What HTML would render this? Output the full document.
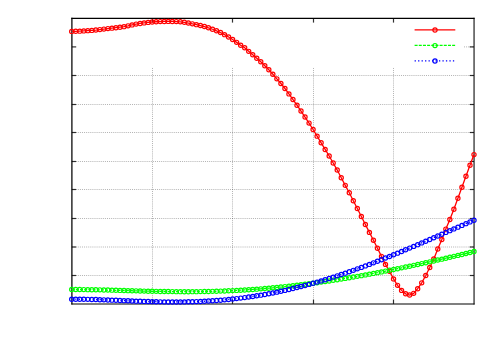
<!DOCTYPE html>
<html><head><meta charset="utf-8"><title>plot</title>
<style>html,body{margin:0;padding:0;background:#fff;font-family:"Liberation Sans",sans-serif;}svg{display:block}</style>
</head><body>
<svg width="500" height="350" viewBox="0 0 500 350">
<rect width="500" height="350" fill="#fff"/>
<line x1="152.50" y1="67.96" x2="152.50" y2="303.9" stroke="#000" stroke-opacity="0.3" stroke-width="1" stroke-dasharray="1 1.085"/>
<line x1="232.50" y1="67.96" x2="232.50" y2="303.9" stroke="#000" stroke-opacity="0.3" stroke-width="1" stroke-dasharray="1 1.085"/>
<line x1="313.50" y1="67.96" x2="313.50" y2="303.9" stroke="#000" stroke-opacity="0.3" stroke-width="1" stroke-dasharray="1 1.085"/>
<line x1="393.50" y1="67.96" x2="393.50" y2="303.9" stroke="#000" stroke-opacity="0.3" stroke-width="1" stroke-dasharray="1 1.085"/>
<line x1="464" y1="46.90" x2="474.0" y2="46.90" stroke="#000" stroke-opacity="0.3" stroke-width="1" stroke-dasharray="1 1.085"/>
<line x1="71.555" y1="75.50" x2="474.0" y2="75.50" stroke="#000" stroke-opacity="0.3" stroke-width="1" stroke-dasharray="1 1.085"/>
<line x1="71.555" y1="104.50" x2="474.0" y2="104.50" stroke="#000" stroke-opacity="0.3" stroke-width="1" stroke-dasharray="1 1.085"/>
<line x1="71.555" y1="132.50" x2="474.0" y2="132.50" stroke="#000" stroke-opacity="0.3" stroke-width="1" stroke-dasharray="1 1.085"/>
<line x1="71.555" y1="161.50" x2="474.0" y2="161.50" stroke="#000" stroke-opacity="0.3" stroke-width="1" stroke-dasharray="1 1.085"/>
<line x1="71.555" y1="189.50" x2="474.0" y2="189.50" stroke="#000" stroke-opacity="0.3" stroke-width="1" stroke-dasharray="1 1.085"/>
<line x1="71.555" y1="218.50" x2="474.0" y2="218.50" stroke="#000" stroke-opacity="0.3" stroke-width="1" stroke-dasharray="1 1.085"/>
<line x1="71.555" y1="247.00" x2="474.0" y2="247.00" stroke="#000" stroke-opacity="0.3" stroke-width="1" stroke-dasharray="1 1.085"/>
<line x1="71.555" y1="275.50" x2="474.0" y2="275.50" stroke="#000" stroke-opacity="0.3" stroke-width="1" stroke-dasharray="1 1.085"/>

<g stroke="#000" stroke-opacity="0.8" stroke-width="1.2"><line x1="152.50" y1="18.3" x2="152.50" y2="22.6"/><line x1="152.50" y1="303.9" x2="152.50" y2="299.59999999999997"/>
<line x1="232.50" y1="18.3" x2="232.50" y2="22.6"/><line x1="232.50" y1="303.9" x2="232.50" y2="299.59999999999997"/>
<line x1="313.50" y1="18.3" x2="313.50" y2="22.6"/><line x1="313.50" y1="303.9" x2="313.50" y2="299.59999999999997"/>
<line x1="393.50" y1="18.3" x2="393.50" y2="22.6"/><line x1="393.50" y1="303.9" x2="393.50" y2="299.59999999999997"/>
<line x1="71.9" y1="46.90" x2="76.2" y2="46.90"/><line x1="474.0" y1="46.90" x2="469.7" y2="46.90"/>
<line x1="71.9" y1="75.50" x2="76.2" y2="75.50"/><line x1="474.0" y1="75.50" x2="469.7" y2="75.50"/>
<line x1="71.9" y1="104.50" x2="76.2" y2="104.50"/><line x1="474.0" y1="104.50" x2="469.7" y2="104.50"/>
<line x1="71.9" y1="132.50" x2="76.2" y2="132.50"/><line x1="474.0" y1="132.50" x2="469.7" y2="132.50"/>
<line x1="71.9" y1="161.50" x2="76.2" y2="161.50"/><line x1="474.0" y1="161.50" x2="469.7" y2="161.50"/>
<line x1="71.9" y1="189.50" x2="76.2" y2="189.50"/><line x1="474.0" y1="189.50" x2="469.7" y2="189.50"/>
<line x1="71.9" y1="218.50" x2="76.2" y2="218.50"/><line x1="474.0" y1="218.50" x2="469.7" y2="218.50"/>
<line x1="71.9" y1="247.00" x2="76.2" y2="247.00"/><line x1="474.0" y1="247.00" x2="469.7" y2="247.00"/>
<line x1="71.9" y1="275.50" x2="76.2" y2="275.50"/><line x1="474.0" y1="275.50" x2="469.7" y2="275.50"/>
</g>
<g stroke="#000" stroke-linecap="square">
<line x1="71.9" y1="18.3" x2="474.0" y2="18.3" stroke-width="1.2"/>
<line x1="71.9" y1="18.3" x2="71.9" y2="303.9" stroke-width="1.25"/>
<line x1="71.9" y1="304.0" x2="474.0" y2="304.0" stroke-width="1.1"/>
<line x1="474.05" y1="18.3" x2="474.05" y2="304.0" stroke-width="1.05"/>
</g>
<line x1="414.6" y1="29.9" x2="455.3" y2="29.9" stroke="#ff0000" stroke-width="1.3" /><circle cx="435.0" cy="30.049999999999997" r="2.1" fill="none" stroke="#ff0000" stroke-width="1.2"/>
<line x1="414.6" y1="45.45" x2="455.3" y2="45.45" stroke="#00ff00" stroke-width="1.3" stroke-dasharray="3 1.17"/><circle cx="435.0" cy="45.6" r="2.1" fill="none" stroke="#00ff00" stroke-width="1.2"/>
<line x1="414.6" y1="60.85" x2="455.3" y2="60.85" stroke="#0000ff" stroke-width="1.3" stroke-dasharray="1.3 2.18"/><circle cx="435.0" cy="61.0" r="2.1" fill="none" stroke="#0000ff" stroke-width="1.2"/>

<polyline points="71.70,31.40 75.72,31.30 79.75,31.14 83.77,30.92 87.79,30.67 91.81,30.40 95.84,30.05 99.86,29.59 103.88,29.10 107.91,28.61 111.93,28.16 115.95,27.70 119.98,27.20 124.00,26.63 128.02,25.83 132.05,24.90 136.07,24.12 140.09,23.48 144.11,22.89 148.14,22.39 152.16,22.02 156.18,21.77 160.21,21.59 164.23,21.46 168.25,21.40 172.28,21.46 176.30,21.61 180.32,21.82 184.34,22.31 188.37,23.07 192.39,23.87 196.41,24.66 200.44,25.52 204.46,26.52 208.48,27.79 212.50,29.24 216.53,30.80 220.55,32.56 224.57,34.64 228.60,36.96 232.62,39.55 236.64,42.37 240.67,45.24 244.69,47.77 248.71,51.34 252.74,54.78 256.76,58.19 260.78,61.79 264.80,65.80 268.83,69.82 272.85,74.23 276.87,78.85 280.90,83.48 284.92,88.49 288.94,93.92 292.96,99.55 296.99,105.18 301.01,111.02 305.03,117.05 309.06,123.09 313.08,129.53 317.10,136.17 321.13,142.81 325.15,149.44 329.17,156.02 333.19,163.04 337.22,170.07 341.24,177.70 345.26,185.34 349.29,192.78 353.31,200.82 357.33,208.47 361.36,216.51 365.38,224.56 369.40,232.40 373.43,240.25 377.45,248.30 381.47,256.34 385.49,264.40 389.52,271.35 393.54,278.90 397.56,285.35 401.59,290.39 405.61,293.80 409.63,295.00 413.65,293.37 417.68,288.70 421.70,282.84 425.72,275.56 429.75,267.50 433.77,258.91 437.79,248.94 441.82,239.46 445.84,229.10 449.86,219.54 453.88,209.30 457.91,198.30 461.93,187.24 465.95,176.28 469.98,165.32 474.00,154.60" fill="none" stroke="#ff0000" stroke-width="1.3" />
<g fill="none" stroke="#ff0000" stroke-width="1.2"><circle cx="71.70" cy="31.40" r="2.1"/><circle cx="75.72" cy="31.30" r="2.1"/><circle cx="79.75" cy="31.14" r="2.1"/><circle cx="83.77" cy="30.92" r="2.1"/><circle cx="87.79" cy="30.67" r="2.1"/><circle cx="91.81" cy="30.40" r="2.1"/><circle cx="95.84" cy="30.05" r="2.1"/><circle cx="99.86" cy="29.59" r="2.1"/><circle cx="103.88" cy="29.10" r="2.1"/><circle cx="107.91" cy="28.61" r="2.1"/><circle cx="111.93" cy="28.16" r="2.1"/><circle cx="115.95" cy="27.70" r="2.1"/><circle cx="119.98" cy="27.20" r="2.1"/><circle cx="124.00" cy="26.63" r="2.1"/><circle cx="128.02" cy="25.83" r="2.1"/><circle cx="132.05" cy="24.90" r="2.1"/><circle cx="136.07" cy="24.12" r="2.1"/><circle cx="140.09" cy="23.48" r="2.1"/><circle cx="144.11" cy="22.89" r="2.1"/><circle cx="148.14" cy="22.39" r="2.1"/><circle cx="152.16" cy="22.02" r="2.1"/><circle cx="156.18" cy="21.77" r="2.1"/><circle cx="160.21" cy="21.59" r="2.1"/><circle cx="164.23" cy="21.46" r="2.1"/><circle cx="168.25" cy="21.40" r="2.1"/><circle cx="172.28" cy="21.46" r="2.1"/><circle cx="176.30" cy="21.61" r="2.1"/><circle cx="180.32" cy="21.82" r="2.1"/><circle cx="184.34" cy="22.31" r="2.1"/><circle cx="188.37" cy="23.07" r="2.1"/><circle cx="192.39" cy="23.87" r="2.1"/><circle cx="196.41" cy="24.66" r="2.1"/><circle cx="200.44" cy="25.52" r="2.1"/><circle cx="204.46" cy="26.52" r="2.1"/><circle cx="208.48" cy="27.79" r="2.1"/><circle cx="212.50" cy="29.24" r="2.1"/><circle cx="216.53" cy="30.80" r="2.1"/><circle cx="220.55" cy="32.56" r="2.1"/><circle cx="224.57" cy="34.64" r="2.1"/><circle cx="228.60" cy="36.96" r="2.1"/><circle cx="232.62" cy="39.55" r="2.1"/><circle cx="236.64" cy="42.37" r="2.1"/><circle cx="240.67" cy="45.24" r="2.1"/><circle cx="244.69" cy="47.77" r="2.1"/><circle cx="248.71" cy="51.34" r="2.1"/><circle cx="252.74" cy="54.78" r="2.1"/><circle cx="256.76" cy="58.19" r="2.1"/><circle cx="260.78" cy="61.79" r="2.1"/><circle cx="264.80" cy="65.80" r="2.1"/><circle cx="268.83" cy="69.82" r="2.1"/><circle cx="272.85" cy="74.23" r="2.1"/><circle cx="276.87" cy="78.85" r="2.1"/><circle cx="280.90" cy="83.48" r="2.1"/><circle cx="284.92" cy="88.49" r="2.1"/><circle cx="288.94" cy="93.92" r="2.1"/><circle cx="292.96" cy="99.55" r="2.1"/><circle cx="296.99" cy="105.18" r="2.1"/><circle cx="301.01" cy="111.02" r="2.1"/><circle cx="305.03" cy="117.05" r="2.1"/><circle cx="309.06" cy="123.09" r="2.1"/><circle cx="313.08" cy="129.53" r="2.1"/><circle cx="317.10" cy="136.17" r="2.1"/><circle cx="321.13" cy="142.81" r="2.1"/><circle cx="325.15" cy="149.44" r="2.1"/><circle cx="329.17" cy="156.02" r="2.1"/><circle cx="333.19" cy="163.04" r="2.1"/><circle cx="337.22" cy="170.07" r="2.1"/><circle cx="341.24" cy="177.70" r="2.1"/><circle cx="345.26" cy="185.34" r="2.1"/><circle cx="349.29" cy="192.78" r="2.1"/><circle cx="353.31" cy="200.82" r="2.1"/><circle cx="357.33" cy="208.47" r="2.1"/><circle cx="361.36" cy="216.51" r="2.1"/><circle cx="365.38" cy="224.56" r="2.1"/><circle cx="369.40" cy="232.40" r="2.1"/><circle cx="373.43" cy="240.25" r="2.1"/><circle cx="377.45" cy="248.30" r="2.1"/><circle cx="381.47" cy="256.34" r="2.1"/><circle cx="385.49" cy="264.40" r="2.1"/><circle cx="389.52" cy="271.35" r="2.1"/><circle cx="393.54" cy="278.90" r="2.1"/><circle cx="397.56" cy="285.35" r="2.1"/><circle cx="401.59" cy="290.39" r="2.1"/><circle cx="405.61" cy="293.80" r="2.1"/><circle cx="409.63" cy="295.00" r="2.1"/><circle cx="413.65" cy="293.37" r="2.1"/><circle cx="417.68" cy="288.70" r="2.1"/><circle cx="421.70" cy="282.84" r="2.1"/><circle cx="425.72" cy="275.56" r="2.1"/><circle cx="429.75" cy="267.50" r="2.1"/><circle cx="433.77" cy="258.91" r="2.1"/><circle cx="437.79" cy="248.94" r="2.1"/><circle cx="441.82" cy="239.46" r="2.1"/><circle cx="445.84" cy="229.10" r="2.1"/><circle cx="449.86" cy="219.54" r="2.1"/><circle cx="453.88" cy="209.30" r="2.1"/><circle cx="457.91" cy="198.30" r="2.1"/><circle cx="461.93" cy="187.24" r="2.1"/><circle cx="465.95" cy="176.28" r="2.1"/><circle cx="469.98" cy="165.32" r="2.1"/><circle cx="474.00" cy="154.60" r="2.1"/></g>

<polyline points="71.70,289.56 75.72,289.56 79.75,289.57 83.77,289.60 87.79,289.65 91.81,289.71 95.84,289.78 99.86,289.87 103.88,289.96 107.91,290.06 111.93,290.17 115.95,290.28 119.98,290.40 124.00,290.52 128.02,290.63 132.05,290.75 136.07,290.86 140.09,290.97 144.11,291.08 148.14,291.18 152.16,291.27 156.18,291.36 160.21,291.43 164.23,291.50 168.25,291.56 172.28,291.61 176.30,291.64 180.32,291.67 184.34,291.68 188.37,291.68 192.39,291.66 196.41,291.63 200.44,291.58 204.46,291.52 208.48,291.44 212.50,291.34 216.53,291.23 220.55,291.10 224.57,290.96 228.60,290.80 232.62,290.61 236.64,290.42 240.67,290.20 244.69,289.97 248.71,289.71 252.74,289.44 256.76,289.15 260.78,288.85 264.80,288.52 268.83,288.18 272.85,287.82 276.87,287.44 280.90,287.04 284.92,286.62 288.94,286.19 292.96,285.74 296.99,285.27 301.01,284.79 305.03,284.28 309.06,283.77 313.08,283.23 317.10,282.68 321.13,282.11 325.15,281.53 329.17,280.93 333.19,280.32 337.22,279.69 341.24,279.05 345.26,278.39 349.29,277.72 353.31,277.03 357.33,276.34 361.36,275.63 365.38,274.90 369.40,274.17 373.43,273.42 377.45,272.66 381.47,271.89 385.49,271.10 389.52,270.31 393.54,269.51 397.56,268.69 401.59,267.87 405.61,267.03 409.63,266.19 413.65,265.34 417.68,264.48 421.70,263.61 425.72,262.73 429.75,261.84 433.77,260.95 437.79,260.04 441.82,259.13 445.84,258.21 449.86,257.28 453.88,256.35 457.91,255.41 461.93,254.46 465.95,253.50 469.98,252.54 474.00,251.56" fill="none" stroke="#00ff00" stroke-width="1.3" stroke-dasharray="3 1.17"/>
<g fill="none" stroke="#00ff00" stroke-width="1.2"><circle cx="71.70" cy="289.56" r="2.1"/><circle cx="75.72" cy="289.56" r="2.1"/><circle cx="79.75" cy="289.57" r="2.1"/><circle cx="83.77" cy="289.60" r="2.1"/><circle cx="87.79" cy="289.65" r="2.1"/><circle cx="91.81" cy="289.71" r="2.1"/><circle cx="95.84" cy="289.78" r="2.1"/><circle cx="99.86" cy="289.87" r="2.1"/><circle cx="103.88" cy="289.96" r="2.1"/><circle cx="107.91" cy="290.06" r="2.1"/><circle cx="111.93" cy="290.17" r="2.1"/><circle cx="115.95" cy="290.28" r="2.1"/><circle cx="119.98" cy="290.40" r="2.1"/><circle cx="124.00" cy="290.52" r="2.1"/><circle cx="128.02" cy="290.63" r="2.1"/><circle cx="132.05" cy="290.75" r="2.1"/><circle cx="136.07" cy="290.86" r="2.1"/><circle cx="140.09" cy="290.97" r="2.1"/><circle cx="144.11" cy="291.08" r="2.1"/><circle cx="148.14" cy="291.18" r="2.1"/><circle cx="152.16" cy="291.27" r="2.1"/><circle cx="156.18" cy="291.36" r="2.1"/><circle cx="160.21" cy="291.43" r="2.1"/><circle cx="164.23" cy="291.50" r="2.1"/><circle cx="168.25" cy="291.56" r="2.1"/><circle cx="172.28" cy="291.61" r="2.1"/><circle cx="176.30" cy="291.64" r="2.1"/><circle cx="180.32" cy="291.67" r="2.1"/><circle cx="184.34" cy="291.68" r="2.1"/><circle cx="188.37" cy="291.68" r="2.1"/><circle cx="192.39" cy="291.66" r="2.1"/><circle cx="196.41" cy="291.63" r="2.1"/><circle cx="200.44" cy="291.58" r="2.1"/><circle cx="204.46" cy="291.52" r="2.1"/><circle cx="208.48" cy="291.44" r="2.1"/><circle cx="212.50" cy="291.34" r="2.1"/><circle cx="216.53" cy="291.23" r="2.1"/><circle cx="220.55" cy="291.10" r="2.1"/><circle cx="224.57" cy="290.96" r="2.1"/><circle cx="228.60" cy="290.80" r="2.1"/><circle cx="232.62" cy="290.61" r="2.1"/><circle cx="236.64" cy="290.42" r="2.1"/><circle cx="240.67" cy="290.20" r="2.1"/><circle cx="244.69" cy="289.97" r="2.1"/><circle cx="248.71" cy="289.71" r="2.1"/><circle cx="252.74" cy="289.44" r="2.1"/><circle cx="256.76" cy="289.15" r="2.1"/><circle cx="260.78" cy="288.85" r="2.1"/><circle cx="264.80" cy="288.52" r="2.1"/><circle cx="268.83" cy="288.18" r="2.1"/><circle cx="272.85" cy="287.82" r="2.1"/><circle cx="276.87" cy="287.44" r="2.1"/><circle cx="280.90" cy="287.04" r="2.1"/><circle cx="284.92" cy="286.62" r="2.1"/><circle cx="288.94" cy="286.19" r="2.1"/><circle cx="292.96" cy="285.74" r="2.1"/><circle cx="296.99" cy="285.27" r="2.1"/><circle cx="301.01" cy="284.79" r="2.1"/><circle cx="305.03" cy="284.28" r="2.1"/><circle cx="309.06" cy="283.77" r="2.1"/><circle cx="313.08" cy="283.23" r="2.1"/><circle cx="317.10" cy="282.68" r="2.1"/><circle cx="321.13" cy="282.11" r="2.1"/><circle cx="325.15" cy="281.53" r="2.1"/><circle cx="329.17" cy="280.93" r="2.1"/><circle cx="333.19" cy="280.32" r="2.1"/><circle cx="337.22" cy="279.69" r="2.1"/><circle cx="341.24" cy="279.05" r="2.1"/><circle cx="345.26" cy="278.39" r="2.1"/><circle cx="349.29" cy="277.72" r="2.1"/><circle cx="353.31" cy="277.03" r="2.1"/><circle cx="357.33" cy="276.34" r="2.1"/><circle cx="361.36" cy="275.63" r="2.1"/><circle cx="365.38" cy="274.90" r="2.1"/><circle cx="369.40" cy="274.17" r="2.1"/><circle cx="373.43" cy="273.42" r="2.1"/><circle cx="377.45" cy="272.66" r="2.1"/><circle cx="381.47" cy="271.89" r="2.1"/><circle cx="385.49" cy="271.10" r="2.1"/><circle cx="389.52" cy="270.31" r="2.1"/><circle cx="393.54" cy="269.51" r="2.1"/><circle cx="397.56" cy="268.69" r="2.1"/><circle cx="401.59" cy="267.87" r="2.1"/><circle cx="405.61" cy="267.03" r="2.1"/><circle cx="409.63" cy="266.19" r="2.1"/><circle cx="413.65" cy="265.34" r="2.1"/><circle cx="417.68" cy="264.48" r="2.1"/><circle cx="421.70" cy="263.61" r="2.1"/><circle cx="425.72" cy="262.73" r="2.1"/><circle cx="429.75" cy="261.84" r="2.1"/><circle cx="433.77" cy="260.95" r="2.1"/><circle cx="437.79" cy="260.04" r="2.1"/><circle cx="441.82" cy="259.13" r="2.1"/><circle cx="445.84" cy="258.21" r="2.1"/><circle cx="449.86" cy="257.28" r="2.1"/><circle cx="453.88" cy="256.35" r="2.1"/><circle cx="457.91" cy="255.41" r="2.1"/><circle cx="461.93" cy="254.46" r="2.1"/><circle cx="465.95" cy="253.50" r="2.1"/><circle cx="469.98" cy="252.54" r="2.1"/><circle cx="474.00" cy="251.56" r="2.1"/></g>

<polyline points="71.70,299.22 75.72,299.21 79.75,299.24 83.77,299.29 87.79,299.36 91.81,299.46 95.84,299.57 99.86,299.70 103.88,299.84 107.91,299.99 111.93,300.15 115.95,300.32 119.98,300.48 124.00,300.65 128.02,300.81 132.05,300.97 136.07,301.13 140.09,301.28 144.11,301.42 148.14,301.54 152.16,301.65 156.18,301.75 160.21,301.83 164.23,301.90 168.25,301.94 172.28,301.96 176.30,301.97 180.32,301.94 184.34,301.90 188.37,301.82 192.39,301.72 196.41,301.59 200.44,301.44 204.46,301.25 208.48,301.03 212.50,300.78 216.53,300.50 220.55,300.19 224.57,299.84 228.60,299.46 232.62,299.05 236.64,298.60 240.67,298.11 244.69,297.59 248.71,297.04 252.74,296.45 256.76,295.82 260.78,295.16 264.80,294.46 268.83,293.72 272.85,292.95 276.87,292.14 280.90,291.29 284.92,290.41 288.94,289.50 292.96,288.55 296.99,287.56 301.01,286.54 305.03,285.48 309.06,284.39 313.08,283.27 317.10,282.11 321.13,280.92 325.15,279.70 329.17,278.45 333.19,277.17 337.22,275.86 341.24,274.52 345.26,273.15 349.29,271.75 353.31,270.33 357.33,268.87 361.36,267.40 365.38,265.90 369.40,264.38 373.43,262.83 377.45,261.26 381.47,259.68 385.49,258.07 389.52,256.45 393.54,254.80 397.56,253.15 401.59,251.47 405.61,249.79 409.63,248.09 413.65,246.38 417.68,244.65 421.70,242.92 425.72,241.19 429.75,239.44 433.77,237.69 437.79,235.94 441.82,234.18 445.84,232.42 449.86,230.67 453.88,228.91 457.91,227.16 461.93,225.41 465.95,223.66 469.98,221.92 474.00,220.19" fill="none" stroke="#0000ff" stroke-width="1.3" stroke-dasharray="1.3 2.18"/>
<g fill="none" stroke="#0000ff" stroke-width="1.2"><circle cx="71.70" cy="299.22" r="2.1"/><circle cx="75.72" cy="299.21" r="2.1"/><circle cx="79.75" cy="299.24" r="2.1"/><circle cx="83.77" cy="299.29" r="2.1"/><circle cx="87.79" cy="299.36" r="2.1"/><circle cx="91.81" cy="299.46" r="2.1"/><circle cx="95.84" cy="299.57" r="2.1"/><circle cx="99.86" cy="299.70" r="2.1"/><circle cx="103.88" cy="299.84" r="2.1"/><circle cx="107.91" cy="299.99" r="2.1"/><circle cx="111.93" cy="300.15" r="2.1"/><circle cx="115.95" cy="300.32" r="2.1"/><circle cx="119.98" cy="300.48" r="2.1"/><circle cx="124.00" cy="300.65" r="2.1"/><circle cx="128.02" cy="300.81" r="2.1"/><circle cx="132.05" cy="300.97" r="2.1"/><circle cx="136.07" cy="301.13" r="2.1"/><circle cx="140.09" cy="301.28" r="2.1"/><circle cx="144.11" cy="301.42" r="2.1"/><circle cx="148.14" cy="301.54" r="2.1"/><circle cx="152.16" cy="301.65" r="2.1"/><circle cx="156.18" cy="301.75" r="2.1"/><circle cx="160.21" cy="301.83" r="2.1"/><circle cx="164.23" cy="301.90" r="2.1"/><circle cx="168.25" cy="301.94" r="2.1"/><circle cx="172.28" cy="301.96" r="2.1"/><circle cx="176.30" cy="301.97" r="2.1"/><circle cx="180.32" cy="301.94" r="2.1"/><circle cx="184.34" cy="301.90" r="2.1"/><circle cx="188.37" cy="301.82" r="2.1"/><circle cx="192.39" cy="301.72" r="2.1"/><circle cx="196.41" cy="301.59" r="2.1"/><circle cx="200.44" cy="301.44" r="2.1"/><circle cx="204.46" cy="301.25" r="2.1"/><circle cx="208.48" cy="301.03" r="2.1"/><circle cx="212.50" cy="300.78" r="2.1"/><circle cx="216.53" cy="300.50" r="2.1"/><circle cx="220.55" cy="300.19" r="2.1"/><circle cx="224.57" cy="299.84" r="2.1"/><circle cx="228.60" cy="299.46" r="2.1"/><circle cx="232.62" cy="299.05" r="2.1"/><circle cx="236.64" cy="298.60" r="2.1"/><circle cx="240.67" cy="298.11" r="2.1"/><circle cx="244.69" cy="297.59" r="2.1"/><circle cx="248.71" cy="297.04" r="2.1"/><circle cx="252.74" cy="296.45" r="2.1"/><circle cx="256.76" cy="295.82" r="2.1"/><circle cx="260.78" cy="295.16" r="2.1"/><circle cx="264.80" cy="294.46" r="2.1"/><circle cx="268.83" cy="293.72" r="2.1"/><circle cx="272.85" cy="292.95" r="2.1"/><circle cx="276.87" cy="292.14" r="2.1"/><circle cx="280.90" cy="291.29" r="2.1"/><circle cx="284.92" cy="290.41" r="2.1"/><circle cx="288.94" cy="289.50" r="2.1"/><circle cx="292.96" cy="288.55" r="2.1"/><circle cx="296.99" cy="287.56" r="2.1"/><circle cx="301.01" cy="286.54" r="2.1"/><circle cx="305.03" cy="285.48" r="2.1"/><circle cx="309.06" cy="284.39" r="2.1"/><circle cx="313.08" cy="283.27" r="2.1"/><circle cx="317.10" cy="282.11" r="2.1"/><circle cx="321.13" cy="280.92" r="2.1"/><circle cx="325.15" cy="279.70" r="2.1"/><circle cx="329.17" cy="278.45" r="2.1"/><circle cx="333.19" cy="277.17" r="2.1"/><circle cx="337.22" cy="275.86" r="2.1"/><circle cx="341.24" cy="274.52" r="2.1"/><circle cx="345.26" cy="273.15" r="2.1"/><circle cx="349.29" cy="271.75" r="2.1"/><circle cx="353.31" cy="270.33" r="2.1"/><circle cx="357.33" cy="268.87" r="2.1"/><circle cx="361.36" cy="267.40" r="2.1"/><circle cx="365.38" cy="265.90" r="2.1"/><circle cx="369.40" cy="264.38" r="2.1"/><circle cx="373.43" cy="262.83" r="2.1"/><circle cx="377.45" cy="261.26" r="2.1"/><circle cx="381.47" cy="259.68" r="2.1"/><circle cx="385.49" cy="258.07" r="2.1"/><circle cx="389.52" cy="256.45" r="2.1"/><circle cx="393.54" cy="254.80" r="2.1"/><circle cx="397.56" cy="253.15" r="2.1"/><circle cx="401.59" cy="251.47" r="2.1"/><circle cx="405.61" cy="249.79" r="2.1"/><circle cx="409.63" cy="248.09" r="2.1"/><circle cx="413.65" cy="246.38" r="2.1"/><circle cx="417.68" cy="244.65" r="2.1"/><circle cx="421.70" cy="242.92" r="2.1"/><circle cx="425.72" cy="241.19" r="2.1"/><circle cx="429.75" cy="239.44" r="2.1"/><circle cx="433.77" cy="237.69" r="2.1"/><circle cx="437.79" cy="235.94" r="2.1"/><circle cx="441.82" cy="234.18" r="2.1"/><circle cx="445.84" cy="232.42" r="2.1"/><circle cx="449.86" cy="230.67" r="2.1"/><circle cx="453.88" cy="228.91" r="2.1"/><circle cx="457.91" cy="227.16" r="2.1"/><circle cx="461.93" cy="225.41" r="2.1"/><circle cx="465.95" cy="223.66" r="2.1"/><circle cx="469.98" cy="221.92" r="2.1"/><circle cx="474.00" cy="220.19" r="2.1"/></g>

</svg>
</body></html>
